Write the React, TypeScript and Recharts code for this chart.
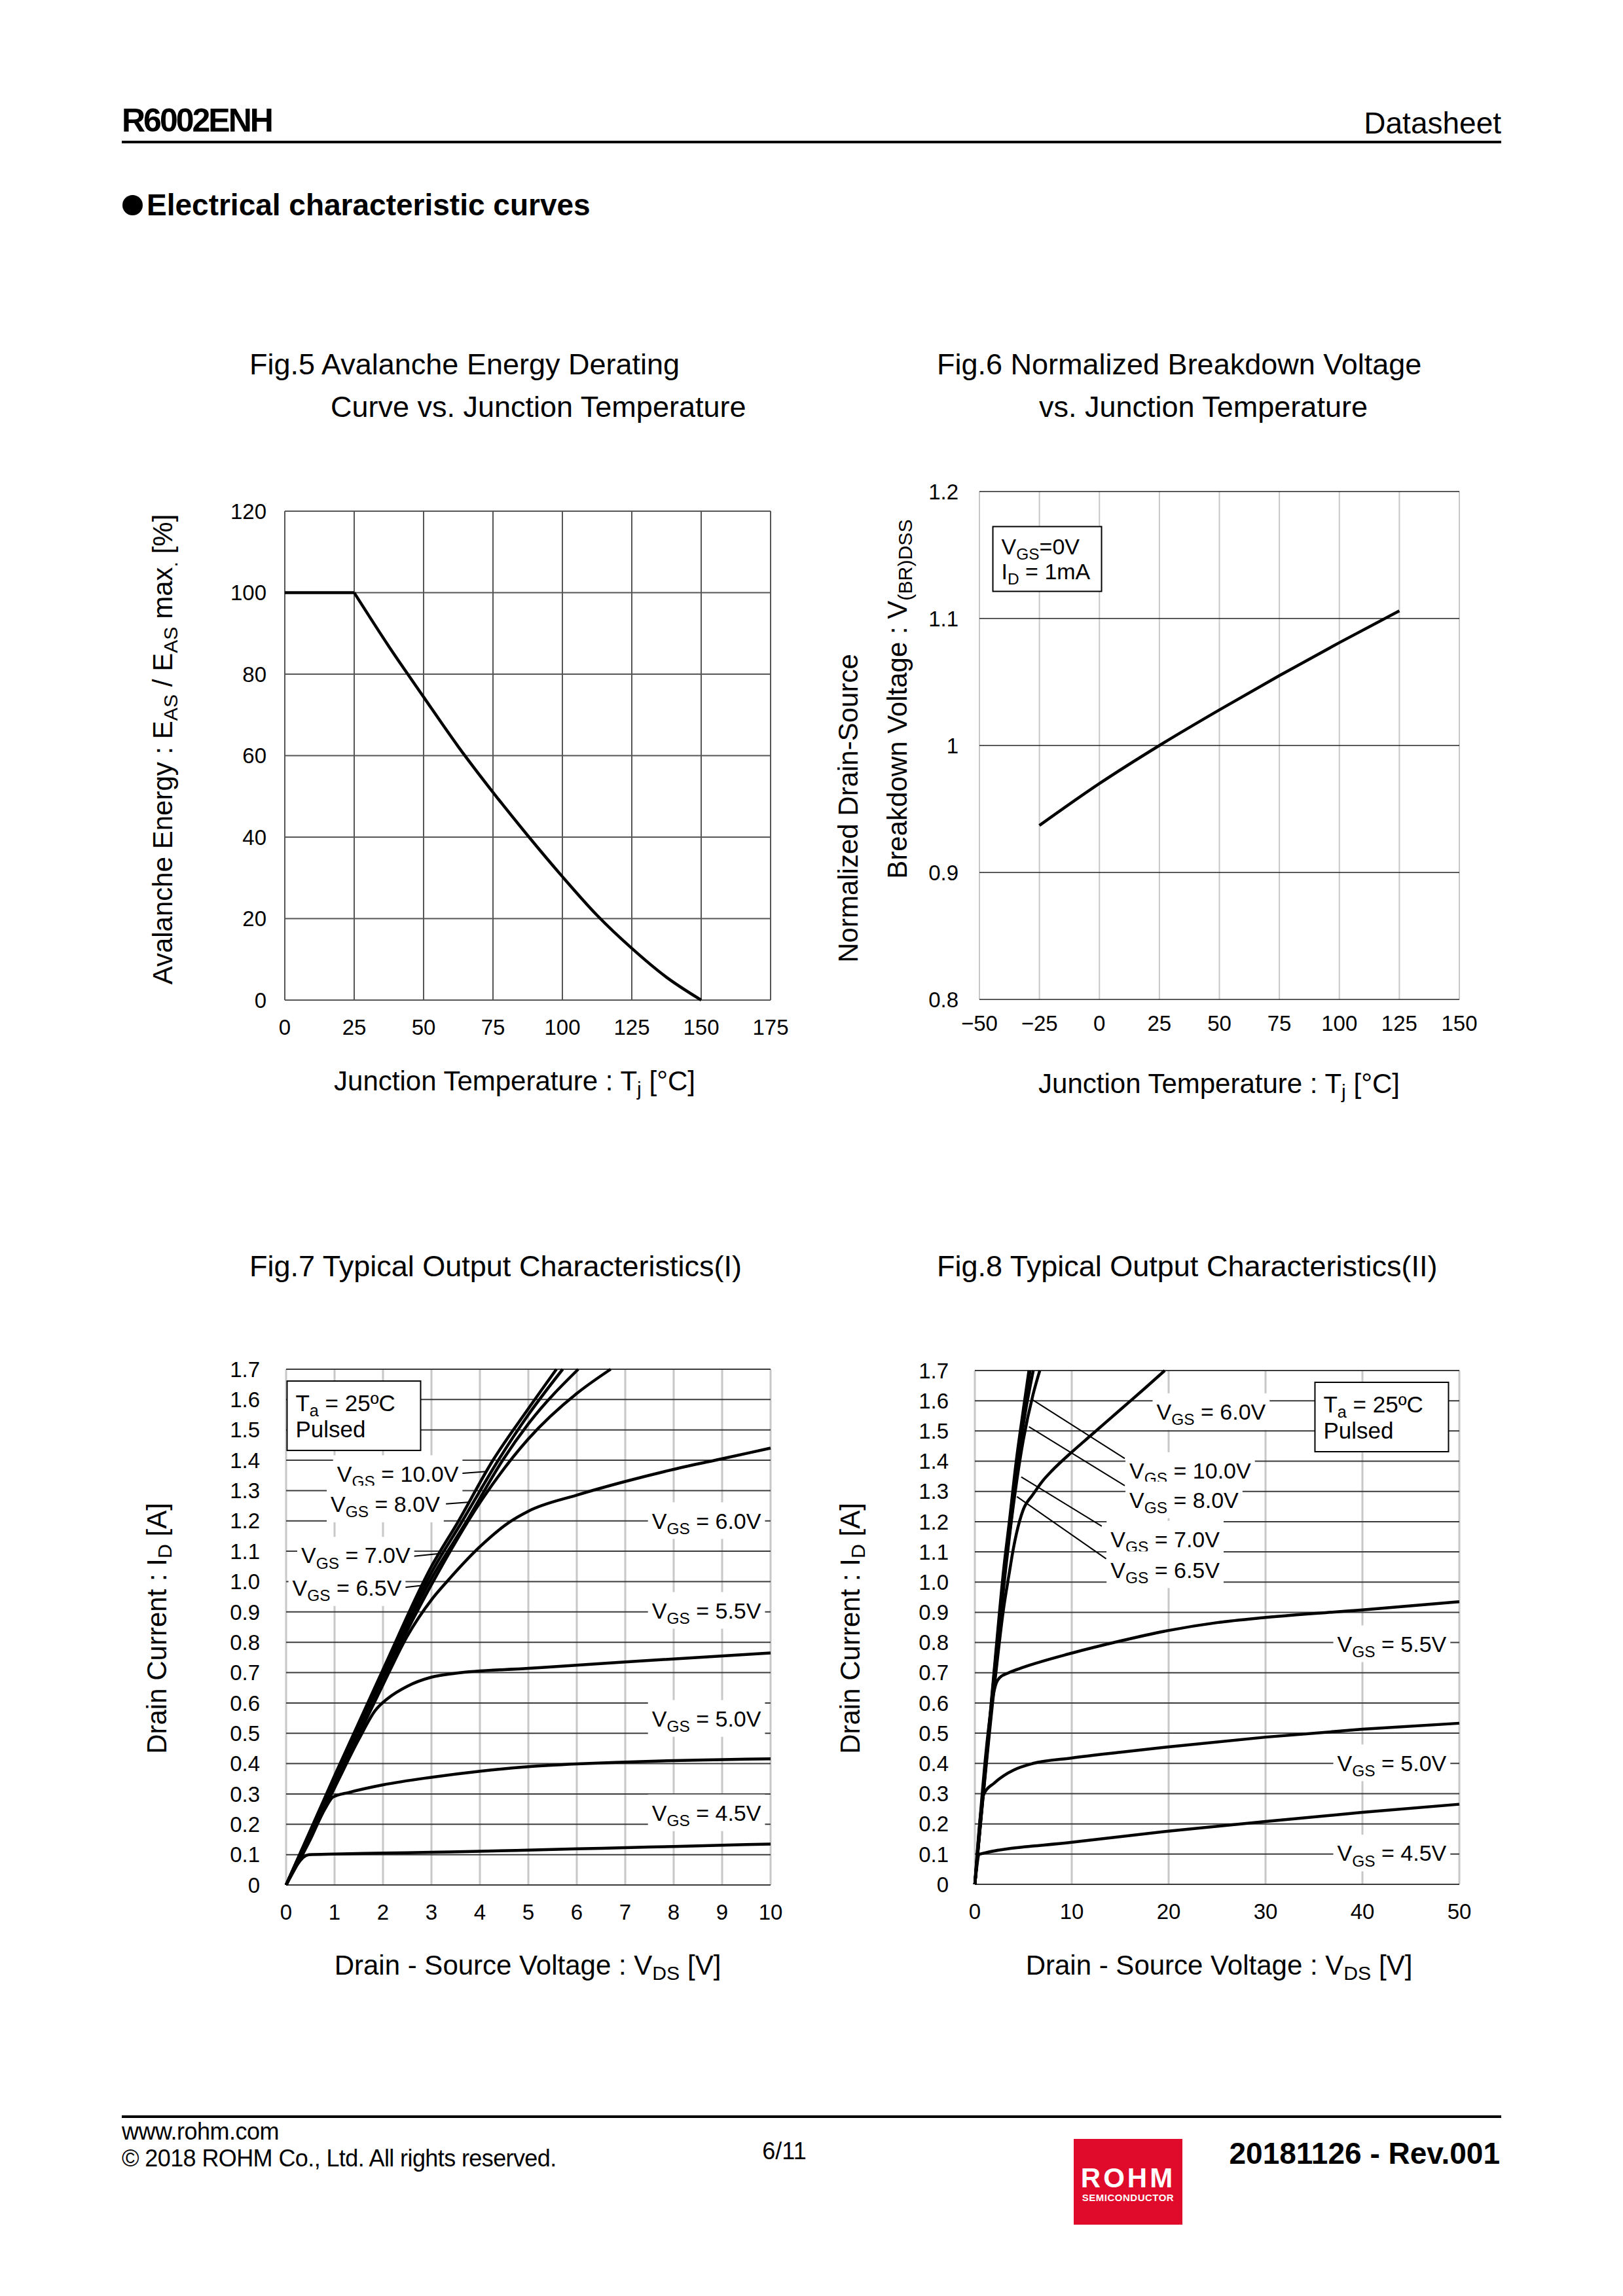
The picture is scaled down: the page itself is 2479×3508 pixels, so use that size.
import React from 'react';
import {
  LineChart,
  Line,
  XAxis,
  YAxis,
  CartesianGrid,
  ReferenceLine,
  ReferenceDot,
} from 'recharts';

const FONT = '"Liberation Sans", Arial, Helvetica, sans-serif';

// ---- Fig.5 avalanche energy derating
const fig5Temp = [0, 25, 37.5, 50, 62.5, 75, 87.5, 100, 112.5, 125, 137.5, 150];
const fig5Energy = [100, 100, 86.8, 74.4, 62.2, 51.0, 40.4, 30.3, 20.8, 12.7, 5.6, 0];
const fig5XTicks = [0, 25, 50, 75, 100, 125, 150, 175];
const fig5YTicks = [0, 20, 40, 60, 80, 100, 120];

// ---- Fig.6 normalized breakdown voltage
const fig6Temp = [-25, 0, 25, 50, 75, 100, 125];
const fig6Vbr = [0.937, 0.97, 1.0, 1.028, 1.055, 1.081, 1.106];
const fig6XTicks = [-50, -25, 0, 25, 50, 75, 100, 125, 150];
const fig6YTicks = [0.8, 0.9, 1, 1.1, 1.2];

// ---- Fig.7 / Fig.8 output characteristics, [Vds, Id]
type Pt = [number, number];
const idTicks = [0, 0.1, 0.2, 0.3, 0.4, 0.5, 0.6, 0.7, 0.8, 0.9, 1.0, 1.1, 1.2, 1.3, 1.4, 1.5, 1.6, 1.7];
const fig7XTicks = [0, 1, 2, 3, 4, 5, 6, 7, 8, 9, 10];
const fig8XTicks = [0, 10, 20, 30, 40, 50];

// steep curves, shared by both figures
const vgs100: Pt[] = [[0, 0], [1, 0.36], [2, 0.71], [3, 1.05], [3.56, 1.2], [4.27, 1.4], [5, 1.57], [5.58, 1.7]];
const vgs80: Pt[] = [[0, 0], [1, 0.355], [2, 0.7], [3, 1.03], [3.64, 1.2], [4.38, 1.4], [5, 1.55], [5.71, 1.7]];
const vgs70: Pt[] = [[0, 0], [1, 0.35], [2, 0.69], [3, 1.01], [3.73, 1.2], [4.47, 1.4], [5, 1.52], [6.03, 1.7]];
const vgs65: Pt[] = [[0, 0], [1, 0.345], [2, 0.68], [3, 0.99], [4, 1.26], [5, 1.47], [6, 1.62], [6.7, 1.7]];

const fig7Vgs60: Pt[] = [[0, 0], [1, 0.33], [2, 0.66], [2.5, 0.82], [3, 0.94], [3.32, 1.0], [4, 1.115], [4.6, 1.195], [5, 1.232], [6, 1.285], [7, 1.33], [8, 1.37], [9, 1.405], [10, 1.44]];
const fig7Vgs55: Pt[] = [[0, 0], [1, 0.32], [1.5, 0.48], [1.84, 0.575], [2.1, 0.615], [2.5, 0.655], [3, 0.685], [3.5, 0.698], [5, 0.714], [7, 0.735], [10, 0.765]];
const fig7Vgs50: Pt[] = [[0, 0], [0.5, 0.15], [0.8, 0.25], [0.97, 0.29], [1.3, 0.305], [2, 0.33], [3, 0.355], [4, 0.375], [5, 0.39], [6, 0.399], [7, 0.405], [8, 0.41], [9, 0.413], [10, 0.416]];
const fig7Vgs45: Pt[] = [[0, 0], [0.47, 0.1], [1, 0.102], [2, 0.105], [3, 0.108], [4, 0.111], [5, 0.115], [6, 0.119], [7, 0.123], [8, 0.127], [9, 0.131], [10, 0.135]];

const fig8Vgs60: Pt[] = [[0, 0], [2, 0.65], [3, 0.92], [3.5, 1.02], [4, 1.115], [4.6, 1.2], [5, 1.24], [6, 1.29], [7, 1.335], [8, 1.37], [10, 1.43], [12, 1.486], [15, 1.57], [17.5, 1.64], [19.6, 1.7]];
const fig8Vgs55: Pt[] = [[0, 0], [2.2, 0.665], [2.6, 0.685], [3.5, 0.7], [5, 0.718], [10, 0.765], [15, 0.805], [20, 0.84], [25, 0.866], [30, 0.883], [40, 0.908], [50, 0.935]];
const fig8Vgs50: Pt[] = [[0, 0], [0.95, 0.3], [2, 0.335], [3, 0.36], [4, 0.378], [6, 0.4], [10, 0.418], [15, 0.437], [20, 0.455], [30, 0.487], [40, 0.513], [50, 0.533]];
const fig8Vgs45: Pt[] = [[0, 0], [0.5, 0.1], [10, 0.139], [20, 0.176], [30, 0.208], [40, 0.238], [50, 0.265]];

// curve labels: text, left edge Vds, centre Id
const fig7Labels = [
  { text: '10.0V', x: 1.05, y: 1.356 },
  { text: '8.0V', x: 0.92, y: 1.256 },
  { text: '7.0V', x: 0.31, y: 1.087 },
  { text: '6.5V', x: 0.13, y: 0.98 },
  { text: '6.0V', x: 7.55, y: 1.201 },
  { text: '5.5V', x: 7.55, y: 0.905 },
  { text: '5.0V', x: 7.55, y: 0.549 },
  { text: '4.5V', x: 7.55, y: 0.238 },
];
const fig7Leaders: [Pt, Pt][] = [
  [[4.14, 1.363], [3.55, 1.356]],
  [[3.8, 1.262], [3.3, 1.256]],
  [[3.26, 1.094], [2.6, 1.083]],
  [[2.79, 0.987], [2.4, 0.98]],
];
const fig8Labels = [
  { text: '6.0V', x: 18.75, y: 1.564 },
  { text: '10.0V', x: 15.95, y: 1.369 },
  { text: '8.0V', x: 15.95, y: 1.272 },
  { text: '7.0V', x: 14.0, y: 1.142 },
  { text: '6.5V', x: 14.0, y: 1.041 },
  { text: '5.5V', x: 37.4, y: 0.796 },
  { text: '5.0V', x: 37.4, y: 0.402 },
  { text: '4.5V', x: 37.4, y: 0.1035 },
];
const fig8Leaders: [Pt, Pt][] = [
  [[5.92, 1.604], [15.47, 1.409]],
  [[5.58, 1.514], [15.47, 1.319]],
  [[4.79, 1.348], [13.1, 1.185]],
  [[4.34, 1.283], [13.55, 1.077]],
];

const zip = (xs: number[], ys: number[]) => xs.map((x, i) => ({ x, y: ys[i] }));
const toData = (pts: Pt[]) => pts.map(([x, y]) => ({ x, y }));

const fig5Data = zip(fig5Temp, fig5Energy);
const fig5Flat = fig5Data.slice(0, 2);
const fig5Slope = fig5Data.slice(1);

const tickStyle = { fill: '#000', fontSize: 33, fontFamily: FONT };
const LABEL_SIZE = 34;

type Part = [string, boolean];

function SubText({ x, y, size, parts }: { x: number; y: number; size: number; parts: Part[] }) {
  let down = false;
  const off = size * 0.24;
  return (
    <text x={x} y={y} fontSize={size} fontFamily={FONT} fill="#000" style={{ whiteSpace: 'pre' }}>
      {parts.map(([t, sub], i) => {
        let dy = 0;
        if (sub && !down) { dy = off; down = true; }
        else if (!sub && down) { dy = -off; down = false; }
        return (
          <tspan key={i} dy={dy} fontSize={sub ? size * 0.72 : size}>{t}</tspan>
        );
      })}
    </text>
  );
}

function vgsWidth(value: string, size: number) {
  let em = 0.667 + 0.72 * 1.445 + 0.278 * 2 + 0.584;
  for (const c of value) em += c === '.' ? 0.278 : c === 'V' ? 0.667 : 0.556;
  return em * size;
}

const vgsShape = (value: string) => (p: any) => {
  const w = vgsWidth(value, LABEL_SIZE);
  return (
    <g>
      <rect x={p.cx - 6} y={p.cy - 28} width={w + 12} height={56} fill="#fff" />
      <SubText
        x={p.cx}
        y={p.cy + LABEL_SIZE * 0.36}
        size={LABEL_SIZE}
        parts={[['V', false], ['GS', true], [` = ${value}`, false]]}
      />
    </g>
  );
};

const boxShape = (w: number, h: number, size: number, rows: { parts: Part[]; dy: number }[]) => (p: any) => (
  <g>
    <rect x={p.cx} y={p.cy} width={w} height={h} fill="#fff" stroke="#000" strokeWidth={2} />
    {rows.map((r, i) => (
      <SubText key={i} x={p.cx + 13} y={p.cy + r.dy + size * 0.36} size={size} parts={r.parts} />
    ))}
  </g>
);

const pulsedRows = [
  { parts: [['T', false], ['a', true], [' = 25ºC', false]] as Part[], dy: 33 },
  { parts: [['Pulsed', false]] as Part[], dy: 73 },
];

function Txt({
  x, y, size, bold, anchor = 'start', spacing, children,
}: {
  x: number; y: number; size: number; bold?: boolean; anchor?: 'start' | 'middle' | 'end';
  spacing?: number; children: React.ReactNode;
}) {
  const style: React.CSSProperties = {
    position: 'absolute',
    top: y - 0.49 * size,
    fontSize: size,
    lineHeight: `${size}px`,
    fontWeight: bold ? 'bold' : 'normal',
    whiteSpace: 'nowrap',
    letterSpacing: spacing,
  };
  if (anchor === 'start') style.left = x;
  if (anchor === 'end') style.right = 2479 - x;
  if (anchor === 'middle') {
    style.left = x;
    style.transform = 'translateX(-50%)';
  }
  return <div style={style}>{children}</div>;
}

function VTxt({ x, y, size, children }: { x: number; y: number; size: number; children: React.ReactNode }) {
  return (
    <div
      style={{
        position: 'absolute',
        left: x,
        top: y,
        fontSize: size,
        lineHeight: `${size}px`,
        whiteSpace: 'nowrap',
        transform: 'translate(-50%, -50%) rotate(-90deg)',
      }}
    >
      {children}
    </div>
  );
}

const Sub = ({ children }: { children: React.ReactNode }) => (
  <span style={{ fontSize: '0.72em', position: 'relative', top: '0.26em' }}>{children}</span>
);

function Fig5() {
  return (
    <div style={{ position: 'absolute', left: 325, top: 741 }}>
      <LineChart width={892} height={867} margin={{ top: 40, right: 40, bottom: 0, left: 0 }}>
        <CartesianGrid stroke="#555" strokeWidth={2} />
        <XAxis type="number" dataKey="x" domain={[0, 175]} ticks={fig5XTicks} interval={0} height={80}
          axisLine={false} tickLine={false} tickSize={0} tickMargin={30} tick={tickStyle} />
        <YAxis type="number" domain={[0, 120]} ticks={fig5YTicks} interval={0} width={110}
          axisLine={false} tickLine={false} tickSize={0} tickMargin={28} tick={tickStyle} />
        <Line data={fig5Flat} dataKey="y" type="linear" stroke="#000" strokeWidth={4.5}
          dot={false} isAnimationActive={false} />
        <Line data={fig5Slope} dataKey="y" type="monotone" stroke="#000" strokeWidth={4.5}
          dot={false} isAnimationActive={false} />
      </LineChart>
    </div>
  );
}

function Fig6() {
  return (
    <div style={{ position: 'absolute', left: 1386, top: 711 }}>
      <LineChart width={883} height={896} margin={{ top: 40, right: 40, bottom: 0, left: 0 }}>
        <CartesianGrid horizontal={false} stroke="#c8c8c8" strokeWidth={2} />
        <CartesianGrid vertical={false} stroke="#222" strokeWidth={1.5} />
        <XAxis type="number" dataKey="x" domain={[-50, 150]} ticks={fig6XTicks} interval={0} height={80}
          axisLine={false} tickLine={false} tickSize={0} tickMargin={25} tick={tickStyle}
          tickFormatter={(v: number) => (v < 0 ? `\u2212${-v}` : `${v}`)} />
        <YAxis type="number" domain={[0.8, 1.2]} ticks={fig6YTicks} interval={0} width={110}
          axisLine={false} tickLine={false} tickSize={0} tickMargin={32} tick={tickStyle}
          tickFormatter={(v: number) => (v === 1 ? '1' : v.toFixed(1))} />
        <ReferenceDot x={-44.4} y={1.1724} r={1} ifOverflow="visible"
          shape={boxShape(166, 99, 34, [
            { parts: [['V', false], ['GS', true], ['=0V', false]], dy: 30 },
            { parts: [['I', false], ['D', true], [' = 1mA', false]], dy: 68 },
          ])} />
        <Line data={zip(fig6Temp, fig6Vbr)} dataKey="y" type="monotone" stroke="#000" strokeWidth={4.5}
          dot={false} isAnimationActive={false} />
      </LineChart>
    </div>
  );
}

function OutputChart({
  left, top, height, xMax, xTicks, curves, labels, leaders, boxAt,
}: {
  left: number; top: number; height: number; xMax: number; xTicks: number[];
  curves: Pt[][]; labels: { text: string; x: number; y: number }[]; leaders: [Pt, Pt][]; boxAt: Pt;
}) {
  return (
    <div style={{ position: 'absolute', left, top }}>
      <LineChart width={890} height={height} margin={{ top: 40, right: 40, bottom: 0, left: 0 }}>
        <CartesianGrid horizontal={false} stroke="#c8c8c8" strokeWidth={3} />
        <CartesianGrid vertical={false} stroke="#3a3a3a" strokeWidth={2} />
        <XAxis type="number" dataKey="x" domain={[0, xMax]} ticks={xTicks} interval={0} height={80}
          axisLine={false} tickLine={false} tickSize={0} tickMargin={30} tick={tickStyle} />
        <YAxis type="number" domain={[0, 1.7]} ticks={idTicks} interval={0} width={110}
          axisLine={false} tickLine={false} tickSize={0} tickMargin={40} tick={tickStyle}
          tickFormatter={(v: number) => (v === 0 ? '0' : v.toFixed(1))} />
        {labels.map((l) => (
          <ReferenceDot key={l.text + l.x} x={l.x} y={l.y} r={1} ifOverflow="visible" shape={vgsShape(l.text)} />
        ))}
        <ReferenceDot x={boxAt[0]} y={boxAt[1]} r={1} ifOverflow="visible" shape={boxShape(204, 106, 35, pulsedRows)} />
        {leaders.map((seg, i) => (
          <ReferenceLine key={i} segment={[{ x: seg[0][0], y: seg[0][1] }, { x: seg[1][0], y: seg[1][1] }]}
            stroke="#000" strokeWidth={2} ifOverflow="visible" />
        ))}
        {curves.map((c, i) => (
          <Line key={i} data={toData(c)} dataKey="y" type="monotone" stroke="#000" strokeWidth={4.5}
            dot={false} isAnimationActive={false} />
        ))}
      </LineChart>
    </div>
  );
}

export default function App() {
  return (
    <div style={{ position: 'absolute', left: 0, top: 0, width: 2479, height: 3508, background: '#fff', fontFamily: FONT, color: '#000' }}>
      {/* header */}
      <Txt x={186} y={183} size={50} bold spacing={-3}>R6002ENH</Txt>
      <Txt x={2293} y={188} size={46} anchor="end">Datasheet</Txt>
      <div style={{ position: 'absolute', left: 186, top: 215, width: 2107, height: 4, background: '#000' }} />
      <div style={{ position: 'absolute', left: 187, top: 298, width: 31, height: 31, borderRadius: '50%', background: '#000' }} />
      <Txt x={224} y={313} size={46} bold>Electrical characteristic curves</Txt>

      {/* titles */}
      <Txt x={381} y={556} size={45}>Fig.5 Avalanche Energy Derating</Txt>
      <Txt x={505} y={621} size={45}>Curve vs. Junction Temperature</Txt>
      <Txt x={1431} y={556} size={45}>Fig.6 Normalized Breakdown Voltage</Txt>
      <Txt x={1587} y={621} size={45}>vs. Junction Temperature</Txt>
      <Txt x={381} y={1934} size={45}>Fig.7 Typical Output Characteristics(I)</Txt>
      <Txt x={1431} y={1934} size={45}>Fig.8 Typical Output Characteristics(II)</Txt>

      <Fig5 />
      <Fig6 />
      <OutputChart left={327} top={2052} height={908} xMax={10} xTicks={fig7XTicks}
        curves={[fig7Vgs45, fig7Vgs50, fig7Vgs55, fig7Vgs60, vgs65, vgs70, vgs80, vgs100]}
        labels={fig7Labels} leaders={fig7Leaders} boxAt={[0.02, 1.661]} />
      <OutputChart left={1379} top={2054} height={905} xMax={50} xTicks={fig8XTicks}
        curves={[fig8Vgs45, fig8Vgs50, fig8Vgs55, fig8Vgs60, vgs65, vgs70, vgs80, vgs100]}
        labels={fig8Labels} leaders={fig8Leaders} boxAt={[35.1, 1.661]} />

      {/* axis titles */}
      <Txt x={786} y={1652} size={42} anchor="middle">Junction Temperature : T<Sub>j</Sub> [°C]</Txt>
      <VTxt x={251} y={1145} size={42}>Avalanche Energy : E<Sub>AS</Sub> / E<Sub>AS</Sub> max<Sub>.</Sub> [%]</VTxt>
      <Txt x={1862} y={1656} size={42} anchor="middle">Junction Temperature : T<Sub>j</Sub> [°C]</Txt>
      <VTxt x={1296} y={1235} size={42}>Normalized Drain-Source</VTxt>
      <VTxt x={1373} y={1068} size={42}>Breakdown Voltage : V<Sub>(BR)DSS</Sub></VTxt>
      <Txt x={806} y={3003} size={42} anchor="middle">Drain - Source Voltage : V<Sub>DS</Sub> [V]</Txt>
      <VTxt x={242} y={2488} size={42}>Drain Current : I<Sub>D</Sub> [A]</VTxt>
      <Txt x={1862} y={3003} size={42} anchor="middle">Drain - Source Voltage : V<Sub>DS</Sub> [V]</Txt>
      <VTxt x={1301} y={2488} size={42}>Drain Current : I<Sub>D</Sub> [A]</VTxt>

      {/* footer */}
      <div style={{ position: 'absolute', left: 186, top: 3232, width: 2107, height: 4, background: '#000' }} />
      <Txt x={186} y={3257} size={36} spacing={-0.5}>www.rohm.com</Txt>
      <Txt x={186} y={3298} size={36} spacing={-0.6}>© 2018 ROHM Co., Ltd. All rights reserved.</Txt>
      <Txt x={1198} y={3287} size={36} anchor="middle">6/11</Txt>
      <div style={{ position: 'absolute', left: 1640, top: 3268, width: 166, height: 131, background: '#E00B2B' }} />
      <Txt x={1723} y={3328} size={42} bold anchor="middle" spacing={4}><span style={{ color: '#fff' }}>ROHM</span></Txt>
      <Txt x={1723} y={3357} size={15} bold anchor="middle" spacing={0.5}><span style={{ color: '#fff' }}>SEMICONDUCTOR</span></Txt>
      <Txt x={2291} y={3290} size={46} bold anchor="end">20181126 - Rev.001</Txt>
    </div>
  );
}
